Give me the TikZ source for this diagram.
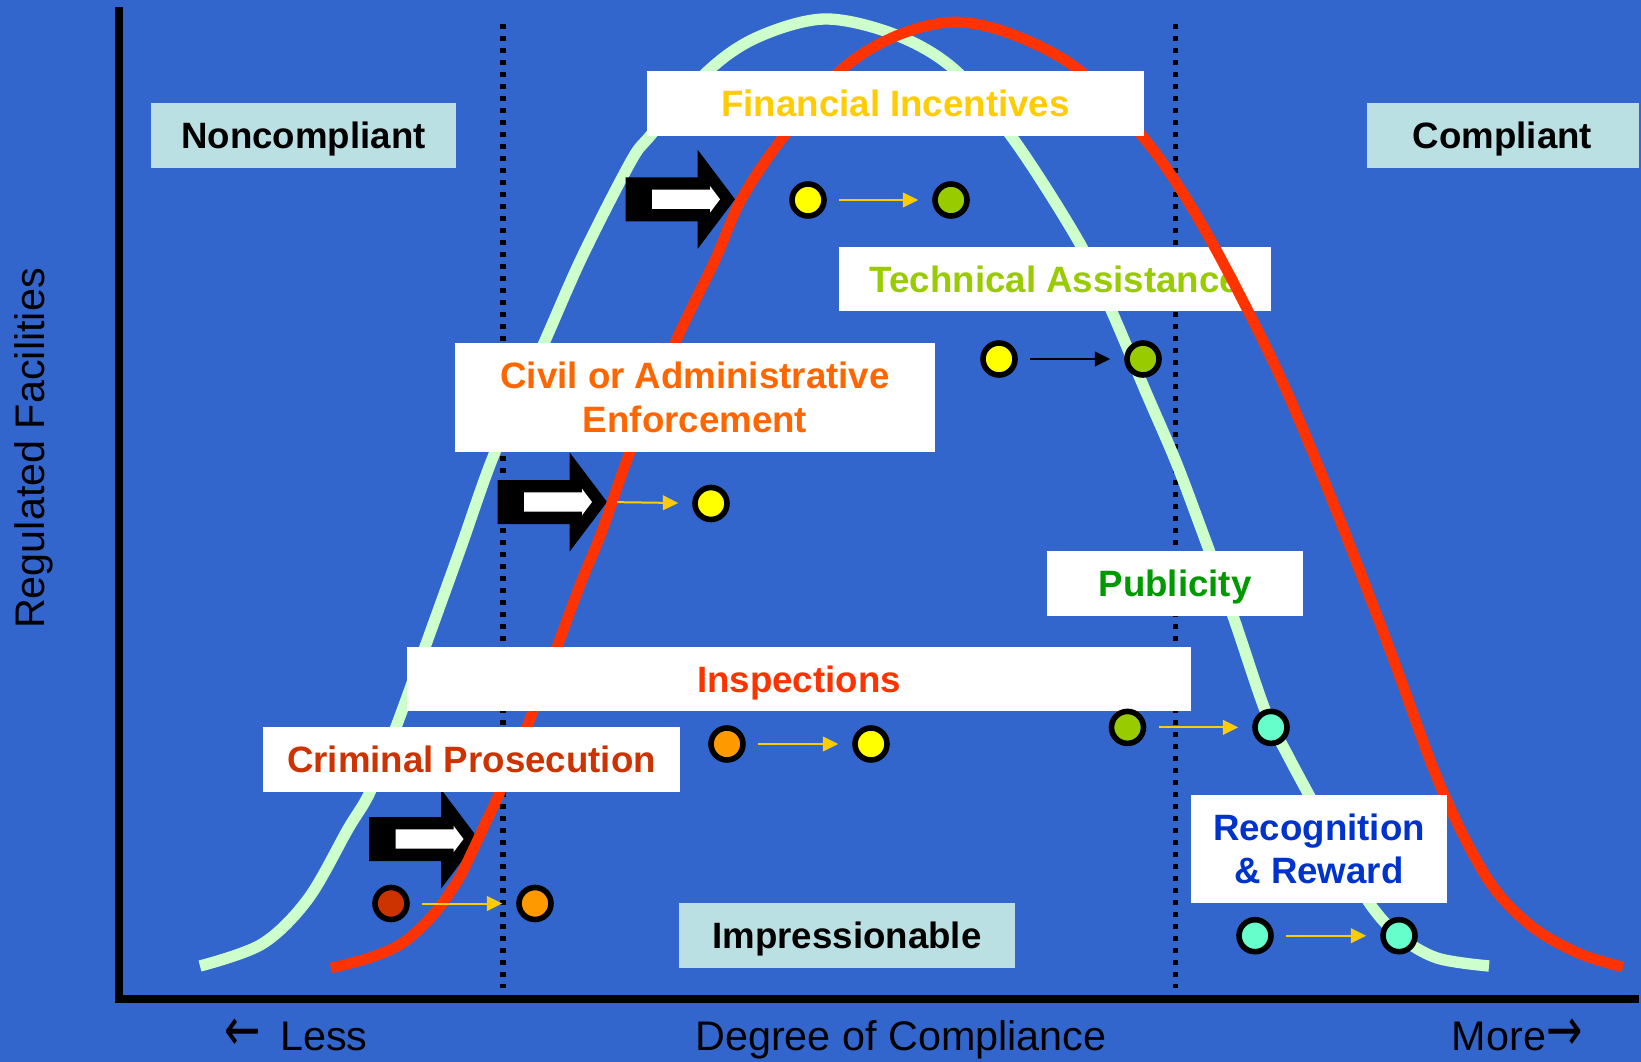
\documentclass[tikz,border=0pt]{standalone}
\usepackage{graphicx}
\usepackage{fontspec}
\setmainfont{Liberation Sans}
\newfontfamily\arrowfont{DejaVu Sans}
\usetikzlibrary{arrows.meta}

\definecolor{bgblue}{RGB}{51,102,204}
\definecolor{mintline}{RGB}{204,255,204}
\definecolor{redline}{RGB}{255,51,0}
\definecolor{paleteal}{RGB}{187,224,227}
\definecolor{txtgold}{RGB}{255,204,0}
\definecolor{txtlime}{RGB}{153,204,0}
\definecolor{txtorange}{RGB}{255,102,0}
\definecolor{txtred}{RGB}{255,51,0}
\definecolor{txtbrick}{RGB}{204,51,0}
\definecolor{txtgreen}{RGB}{0,153,0}
\definecolor{txtblue}{RGB}{0,51,204}
\definecolor{dotyellow}{RGB}{255,255,0}
\definecolor{dotlime}{RGB}{153,204,0}
\definecolor{dotorange}{RGB}{255,153,0}
\definecolor{dotbrick}{RGB}{204,51,0}
\definecolor{dotaqua}{RGB}{102,255,204}

\newcommand{\tallglyph}[1]{\scalebox{1.05}[1.45]{\arrowfont #1}}

\tikzset{every picture/.style={line width=0.75pt}}
\tikzset{
  labelbox/.style={fill=white, inner sep=0pt, font=\bfseries\fontsize{27.5}{32.5}\selectfont},
  zonebox/.style={labelbox, fill=paleteal, text=black},
  oneline/.style={text height=19.8pt, text depth=0pt},
  facility/.style={circle, draw=black, line width=4.2pt, minimum size=24pt, inner sep=0pt},
  moveto/.style={draw=txtgold, line width=1.5pt, -{Triangle[length=11.5pt,width=11pt]}, shorten <=9.2pt, shorten >=10.5pt},
  blockarrow/.style={fill=black, draw=none},
  innerarrow/.style={fill=white, draw=none},
  axistext/.style={font=\fontsize{31}{36}\selectfont, text=black, inner sep=0pt},
  zoneline/.style={line width=3.9pt, dash pattern=on 3.9pt off 5.1pt},
}

\begin{document}
\begin{tikzpicture}[x=0.75pt,y=0.75pt,yscale=-1,xscale=1]
%Shape: Rectangle [background]
\fill [bgblue] (0,0) rectangle (1641,1062);
\useasboundingbox (0,0) rectangle (1641,1062);

%Straight Lines [zone borders]
\draw [zoneline] (503,24) -- (503,988) ;
\draw [zoneline] (1175.5,24) -- (1175.5,988) ;
%Shape: Axis 2D
\draw [line width=5.6pt, line join=miter] (119,7.5) -- (119,999) -- (1638.5,999) ;

%Curve Lines [before]
\draw [mintline, line width=8.5pt] plot [smooth, tension=0.55] coordinates {(200,966) (262,944) (308,899) (348,829) (370,792) (396,727) (425,647) (460,550) (495,452) (544,343) (582,257) (630,163) (650,136) (708,71) (758,37) (825,19) (896,35) (955,70) (1014,140) (1079,242) (1112,312) (1145,390) (1176,462) (1202,531) (1233,616) (1265,710) (1286,752) (1309,795) (1340,852) (1370,904) (1399,936) (1437,958) (1489,966)} ;

% Text Node
\draw (1055,279) node (tech) [labelbox, oneline, text=txtlime, minimum width=324pt, minimum height=48pt] {Technical Assistance};

%Shape: Right Arrow [financial]
\draw [shift={(735,199.3)}, blockarrow] (-109.3,-22) -- (-37.3,-22) -- (-37.3,-49.5) -- (0,0) -- (-37.3,49.5) -- (-37.3,22) -- (-109.3,22) -- cycle ;
\draw [shift={(735,199.3)}, innerarrow] (-83,-9.7) -- (-25,-9.7) -- (-25,-13.3) -- (-15,0) -- (-25,13.3) -- (-25,9.7) -- (-83,9.7) -- cycle ;
%Shape: Right Arrow [civil]
\draw [shift={(607,502)}, blockarrow] (-109.3,-22) -- (-37.3,-22) -- (-37.3,-49.5) -- (0,0) -- (-37.3,49.5) -- (-37.3,22) -- (-109.3,22) -- cycle ;
\draw [shift={(607,502)}, innerarrow] (-83,-9.7) -- (-25,-9.7) -- (-25,-13.3) -- (-15,0) -- (-25,13.3) -- (-25,9.7) -- (-83,9.7) -- cycle ;
%Shape: Right Arrow [criminal]
\draw [shift={(478.5,839)}, blockarrow] (-109.3,-22) -- (-37.3,-22) -- (-37.3,-49.5) -- (0,0) -- (-37.3,49.5) -- (-37.3,22) -- (-109.3,22) -- cycle ;
\draw [shift={(478.5,839)}, innerarrow] (-83,-9.7) -- (-25,-9.7) -- (-25,-13.3) -- (-15,0) -- (-25,13.3) -- (-25,9.7) -- (-83,9.7) -- cycle ;
\coordinate (civtip) at (607,502);

%Curve Lines [after]
\draw [redline, line width=8pt] plot [smooth, tension=0.55] coordinates {(331,968) (372,957) (404,942) (434,914) (458,880) (472,852) (486,822) (500,792) (530,719) (557,647) (580,585) (602,531) (630,452) (675,343) (715,260) (741,200) (781,140) (840,71) (896,36) (955,22) (1014,35) (1079,70) (1143,137) (1186,198) (1229,274) (1283,383) (1336,510) (1390,650) (1440,785) (1487,878) (1530,925) (1578,953) (1623,967)} ;

% Text Node
\draw (303.5,135.5) node (noncomp) [zonebox, oneline, minimum width=228.75pt, minimum height=48.75pt] {Noncompliant};
% Text Node
\draw (1502.5,135.5) node (comp) [zonebox, oneline, minimum width=204pt, minimum height=48.75pt] {Compliant};
% Text Node
\draw (847,935.5) node (impress) [zonebox, oneline, minimum width=252pt, minimum height=48.75pt] {Impressionable};
% Text Node
\draw (895.5,103.5) node (fin) [labelbox, oneline, text=txtgold, minimum width=372.75pt, minimum height=48.75pt] {Financial Incentives};
% Text Node
\draw (695,397.5) node (civil) [labelbox, align=center, text=txtorange, minimum width=360pt, minimum height=81.75pt] {Civil or Administrative\\Enforcement};
% Text Node
\draw (1175,583.5) node (publ) [labelbox, oneline, text=txtgreen, minimum width=192pt, minimum height=48.75pt] {Publicity};
% Text Node
\draw (799,679) node (insp) [labelbox, oneline, text=txtred, minimum width=588pt, minimum height=48.4pt] {Inspections};
% Text Node
\draw (471.5,759.5) node (crim) [labelbox, oneline, text=txtbrick, minimum width=312.75pt, minimum height=48.75pt] {Criminal Prosecution};
% Text Node
\draw (1319,849) node (recog) [labelbox, align=center, text=txtblue, minimum width=192pt, minimum height=81.4pt] {Recognition\\\& Reward};

%Shape: Circle
\draw (808,200) node (fina) [facility, fill=dotyellow] {};
\draw (951,200) node (finb) [facility, fill=dotlime] {};
\draw (999,359) node (techa) [facility, fill=dotyellow] {};
\draw (1143,359) node (techb) [facility, fill=dotlime] {};
\draw (711,503.5) node (civb) [facility, fill=dotyellow] {};
\draw (727,744) node (inspa) [facility, fill=dotorange] {};
\draw (871,744) node (inspb) [facility, fill=dotyellow] {};
\draw (1127.5,727.4) node (publa) [facility, fill=dotlime] {};
\draw (1271,727.4) node (publb) [facility, fill=dotaqua] {};
\draw (391,903.5) node (crima) [facility, fill=dotbrick] {};
\draw (535,903.5) node (crimb) [facility, fill=dotorange] {};
\draw (1255,935.7) node (recoga) [facility, fill=dotaqua] {};
\draw (1399,935.7) node (recogb) [facility, fill=dotaqua] {};

%Straight Lines
\draw [moveto] (fina) -- (finb) ;
\draw [moveto, draw=black] (techa) -- (techb) ;
\draw [moveto, shorten <=7.5pt] (civtip) -- (civb) ;
\draw [moveto] (inspa) -- (inspb) ;
\draw [moveto] (publa) -- (publb) ;
\draw [moveto] (crima) -- (crimb) ;
\draw [moveto] (recoga) -- (recogb) ;

% Text Node
\draw (44.5,448.5) node (yaxis) [axistext, anchor=base, rotate=90] {Regulated Facilities};
% Text Node
\draw (224,1050.7) node (less) [axistext, anchor=base west] {\tallglyph{←}\hspace{6pt} Less};
% Text Node
\draw (901,1050.7) node (xaxis) [axistext, anchor=base] {Degree of Compliance};
% Text Node
\draw (1583,1050.7) node (more) [axistext, anchor=base east] {More\tallglyph{→}};

\end{tikzpicture}
\end{document}
